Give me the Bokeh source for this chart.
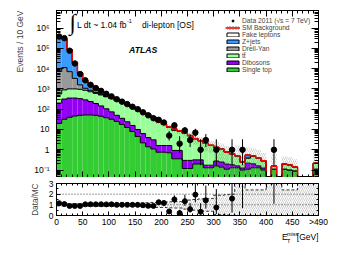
import numpy as np
from bokeh.plotting import figure
from bokeh.layouts import column
from bokeh.models import (ColumnDataSource, FixedTicker, LinearAxis, LogAxis,
                          Label, Legend, LegendItem, Span, Range1d, Title)
from bokeh.embed import file_html
from bokeh.resources import INLINE

# ---------------------------------------------------------------- data
bin_edges = [10 * i for i in range(51)]          # 0 ... 500 GeV, last bin = overflow
x_tick_values = [0, 50, 100, 150, 200, 250, 300, 350, 400, 450, 500]
x_tick_labels = ["0", "50", "100", "150", "200", "250", "300", "350", "400", "450", ">490"]
y_tick_values = [0.1, 1, 10, 100, 1000, 10000, 100000, 1000000]
y_tick_labels = ["10\u207b\u00b9", "1", "10", "10\u00b2", "10\u00b3", "10\u2074", "10\u2075", "10\u2076"]
ratio_tick_values = [0, 1, 2, 3]
ratio_tick_labels = ["0", "1", "2", "3"]

data_2011 = [380000, 316000, 76000, 17900, 5400, 2640, 1590, 1100, 800, 575,
             427, 310, 236, 178, 132, 100, 70, 50, 36, 30,
             22, 5, 16, 2, 9, 3, 7, 1, 3, 0,
             1, 0, 0, 1, 0, 1, 0, 0, 0, 0,
             0, 1, 0, 0, 0, 0, 0, 0, 0, 0]

single_top = [20, 32, 40, 46, 50, 52, 52, 50, 45, 38,
              32, 25, 17.8, 12.6, 7.9, 4.5, 2.2, 1.4, 1.1, 0.76,
              0.76, 0.71, 0.36, 0.36, 0.12, 0.12, 0.2, 0.2, 0.13, 0.13,
              0.16, 0.14, 0.11, 0.13, 0.13, 0.1, 0.11, 0.13, 0.13, 0.1,
              0, 0.11, 0, 0.11, 0.1, 0.09, 0, 0, 0, 0.11]

dibosons = [180, 284, 315, 309, 281, 236, 187, 141, 100, 67,
            42, 25, 17.7, 11.4, 7.9, 5.5, 4.1, 2.6, 2.0, 0.86,
            0.86, 0.91, 0.57, 0.57, 0.18, 0.18, 0.12, 0.12, 0.044, 0.044,
            0.12, 0.11, 0.088, 0.052, 0.032, 0.026, 0.11, 0.074, 0.032, 0.026,
            0, 0, 0, 0, 0, 0, 0, 0, 0, 0]

ttbar = [362, 575, 645, 645, 624, 563, 484, 412, 356, 302,
         257, 213, 173, 138, 107, 83, 63, 48.5, 35.8, 21.8,
         16.6, 11.3, 8.2, 7.4, 6.2, 4.6, 3.15, 2.43, 1.87, 1.45,
         1.01, 0.82, 0.59, 0.45, 0.34, 0.125, 0.17, 0.28, 0.24, 0.16,
         0, 0.046, 0, 0.088, 0.078, 0.052, 0, 0, 0, 0.107]

drell_yan = [6680, 10330, 6080, 2310, 630, 221, 127, 58, 36, 20,
             8, 6, 5, 4, 3, 2, 1.2, 1.0, 0.5, 0.3,
             0.2, 0.1, 0, 0, 0, 0, 0, 0, 0, 0,
             0, 0, 0, 0, 0, 0, 0, 0, 0, 0,
             0, 0, 0, 0, 0, 0, 0, 0, 0, 0]

z_jets = [323900, 283900, 78000, 16640, 4440, 1440, 663, 386, 222, 123,
          68, 40, 20.5, 11.6, 5.8, 4.7, 2.0, 1.5, 0.4, 0.3,
          0.2, 0.2, 1.4, 0.2, 0.15, 0.11, 0.08, 0.07, 0.05, 0.04,
          0.03, 0, 0, 0, 0, 0, 0.16, 0.02, 0, 0,
          0, 0, 0, 0, 0, 0, 0, 0, 0, 0]

fake_leptons = [60, 80, 50, 25, 12, 6, 4, 3, 2, 1.5,
                1.2, 1.0, 0.8, 0.6, 0.5, 0.4, 0.3, 0.25, 0.2, 0.15,
                0.12, 0.1, 0.08, 0.06, 0.05, 0.04, 0.03, 0.03, 0.02, 0.02,
                0.01, 0, 0, 0, 0, 0, 0, 0, 0, 0,
                0, 0, 0, 0, 0, 0, 0, 0, 0, 0]

mc_rel_unc = [0.10, 0.10, 0.10, 0.10, 0.10, 0.11, 0.12, 0.12, 0.13, 0.13,
              0.14, 0.14, 0.15, 0.15, 0.16, 0.17, 0.18, 0.20, 0.22, 0.25,
              0.25, 0.28, 0.30, 0.30, 0.40, 0.45, 0.50, 0.55, 0.60, 0.60,
              0.90, 0.90, 0.95, 1.00, 2.20, 2.20, 1.40, 1.40, 1.40, 1.40,
              3.00, 3.00, 3.00, 1.40, 1.40, 1.40, 3.00, 3.00, 3.00, 3.00]

# ---------------------------------------------------------------- style
FONT = "Liberation Sans"
FLOOR = 1e-3
Y_MIN, Y_MAX = 0.0431, 7.3e6
FRAME_L, FRAME_R, MAIN_T, MAIN_B, RAT_T, RAT_B, RAT_FIG_B, XL_B = 56, 318, 10, 177, 183, 217, 229, 247
FIG_W = 348
HATCH = dict(hatch_pattern="/", hatch_color="#666666", hatch_weight=0.45, hatch_scale=4,
             hatch_alpha=0.7)

components = [
    ("Single top", single_top, "#33CC33"),
    ("Dibosons", dibosons, "#9400F5"),
    ("tt\u0304", ttbar, "#99FF99"),
    ("Drell-Yan", drell_yan, "#999999"),
    ("Z+jets", z_jets, "#3A9BFF"),
    ("Fake leptons", fake_leptons, "#FFFFFF"),
]

edges = np.array(bin_edges, float)
left, right = edges[:-1], edges[1:]
centers = 0.5 * (left + right)
stack = np.cumsum(np.array([c[1] for c in components], float), axis=0)
sm = stack[-1]
unc = np.array(mc_rel_unc, float)
dat = np.array(data_2011, float)

# Poisson 68% intervals (Garwood) for small counts
garwood = {1: (0.173, 3.300), 2: (0.708, 4.638), 3: (1.367, 5.918), 4: (2.086, 7.163),
           5: (2.840, 8.382), 6: (3.620, 9.584), 7: (4.419, 10.77), 8: (5.232, 11.95),
           9: (6.057, 13.11), 10: (6.891, 14.27)}
lo = np.array([garwood[int(n)][0] if 0 < n <= 10 else n - np.sqrt(n) for n in dat])
hi = np.array([garwood[int(n)][1] if 0 < n <= 10 else n + np.sqrt(n) for n in dat])


def gev(px):
    return (px - FRAME_L) / (FRAME_R - FRAME_L) * 500


def main_pos(px, py):
    l0, l1 = np.log10(Y_MIN), np.log10(Y_MAX)
    ly = l1 - (py - MAIN_T) / (MAIN_B - MAIN_T) * (l1 - l0)
    return gev(px), 10 ** ly


def xl_pos(px, py):
    return gev(px), (XL_B - py) / (XL_B - RAT_FIG_B)


def add_label(fig, pos, text, size, align="left", baseline="middle", style="normal",
              font=FONT):
    fig.add_layout(Label(x=float(pos[0]), y=float(pos[1]), text=text, text_font=font,
                         text_font_size=size, text_align=align, text_baseline=baseline,
                         text_font_style=style, text_color="black"))


def style_axis(ax, maj, mnr, show_labels, size="8px", standoff=3):
    ax.major_tick_in = maj
    ax.major_tick_out = 0
    ax.minor_tick_in = mnr
    ax.minor_tick_out = 0
    ax.axis_line_color = "black"
    ax.major_tick_line_color = "black"
    ax.minor_tick_line_color = "black"
    ax.major_label_text_font = FONT
    ax.major_label_text_color = "black"
    if show_labels:
        ax.major_label_text_font_size = size
        ax.major_label_standoff = standoff
    else:
        ax.major_label_text_font_size = "1px"
        ax.major_label_text_alpha = 0
        ax.major_label_standoff = 0


x_minor = list(range(0, 501, 10))
y_minor = [k * 10.0 ** e for e in range(-2, 7) for k in range(2, 10)]

# ---------------------------------------------------------------- main panel
p = figure(width=FIG_W, height=MAIN_B, x_range=Range1d(0, 500), y_range=Range1d(Y_MIN, Y_MAX),
           y_axis_type="log", output_backend="svg", toolbar_location=None,
           min_border_left=FRAME_L, min_border_right=FIG_W - FRAME_R,
           min_border_top=MAIN_T, min_border_bottom=0)
p.xgrid.visible = False
p.ygrid.visible = False
p.outline_line_color = "black"

prev = np.zeros(len(left))
for (name, vals, color), top in zip(components, stack):
    v = np.array(vals, float)
    m = v > 0
    src = ColumnDataSource(dict(left=left[m], right=right[m],
                                bottom=np.maximum(prev[m], FLOOR), top=top[m]))
    p.quad(left="left", right="right", bottom="bottom", top="top", source=src,
           fill_color=color, line_color=None)
    prev = top
for top in stack:
    yv = np.maximum(top, FLOOR)
    p.step(x=edges, y=np.append(yv, yv[-1]), mode="after", line_color="black", line_width=1)

m = sm > 0
band = p.quad(left=left[m], right=right[m], bottom=np.maximum(sm[m] * (1 - unc[m]), FLOOR),
              top=sm[m] * (1 + unc[m]), fill_alpha=0, line_alpha=0, **HATCH)
smy = np.maximum(sm, FLOOR)
red = p.step(x=edges, y=np.append(smy, smy[-1]), mode="after", line_color="red", line_width=1.5)

md = dat > 0
p.segment(x0=centers[md], y0=np.maximum(lo[md], FLOOR), x1=centers[md], y1=hi[md],
          line_color="black", line_width=1)
pts = p.scatter(x=centers[md], y=dat[md], size=5.5, marker="circle",
                fill_color="black", line_color="black")

# axes
p.xaxis.ticker = FixedTicker(ticks=x_tick_values, minor_ticks=x_minor)
style_axis(p.xaxis[0], 6, 3, False)
p.yaxis.ticker = FixedTicker(ticks=y_tick_values, minor_ticks=y_minor)
p.yaxis.major_label_overrides = dict(zip(y_tick_values, y_tick_labels))
style_axis(p.yaxis[0], 7, 4, True, "8.5px", 7)
top_ax = LinearAxis(ticker=FixedTicker(ticks=x_tick_values, minor_ticks=x_minor))
style_axis(top_ax, 6, 3, False)
p.add_layout(top_ax, "above")
right_ax = LogAxis(ticker=FixedTicker(ticks=y_tick_values, minor_ticks=y_minor))
style_axis(right_ax, 7, 4, False)
p.add_layout(right_ax, "right")
p.add_layout(Title(text="Events / 10 GeV", align="right", text_font=FONT,
                   text_font_size="8.5px", text_font_style="normal", standoff=13), "left")

# legend glyph renderers (each sits outside the visible x range)
def legend_box(color):
    return p.quad(left=[-50], right=[-40], bottom=[1], top=[2], fill_color=color,
                  line_color="black", line_width=1)

sm_leg = p.quad(left=[-50], right=[-40], bottom=[1], top=[2], fill_alpha=0, line_alpha=0,
                hatch_pattern="/", hatch_color="#555555", hatch_weight=0.5, hatch_scale=3)
items = [LegendItem(label="Data 2011 (\u221as = 7 TeV)", renderers=[pts]),
         LegendItem(label="SM Background", renderers=[sm_leg, red])]
for name, vals, color in reversed(components):
    items.append(LegendItem(label=name, renderers=[legend_box(color)]))
legend = Legend(items=items, location=(169, 104), label_text_font=FONT,
                label_text_font_size="6.7px", glyph_width=15, glyph_height=5,
                label_height=6, label_standoff=2, spacing=0, padding=0, margin=0,
                border_line_alpha=0, background_fill_alpha=0)
p.add_layout(legend)

# texts inside the frame
add_label(p, main_pos(69, 21.5), "\u222b", "23px", font="Liberation Serif")
add_label(p, main_pos(76.5, 24), "L dt ~ 1.04 fb", "8.5px")
add_label(p, main_pos(126.5, 20.5), "-1", "5.5px")
add_label(p, main_pos(141.5, 24), "di-lepton [OS]", "8.5px")
add_label(p, main_pos(128.5, 49.7), "ATLAS", "8.7px", style="bold italic")

# ---------------------------------------------------------------- ratio panel
r = figure(width=FIG_W, height=RAT_FIG_B - MAIN_B, x_range=p.x_range, y_range=Range1d(0, 3),
           output_backend="svg", toolbar_location=None,
           min_border_left=FRAME_L, min_border_right=FIG_W - FRAME_R,
           min_border_top=RAT_T - MAIN_B, min_border_bottom=RAT_FIG_B - RAT_B)
r.xgrid.visible = False
r.ygrid.visible = False
r.outline_line_color = "black"

for lvl in (1, 2):
    r.add_layout(Span(location=lvl, dimension="width", line_color="black",
                      line_dash="1 2", line_width=0.8))

rb_lo = np.maximum(1 - unc, 0)
rb_hi = 1 + unc
r.quad(left=left, right=right, bottom=rb_lo, top=rb_hi, fill_alpha=0, line_alpha=0, **HATCH)
r.step(x=edges, y=np.append(rb_hi, rb_hi[-1]), mode="after", line_color="black",
       line_dash="3 2", line_width=0.8)
r.step(x=edges, y=np.append(rb_lo, rb_lo[-1]), mode="after", line_color="black",
       line_dash="3 2", line_width=0.8)

mr = (dat > 0) & (sm > 0)
ratio = dat[mr] / sm[mr]
r.segment(x0=centers[mr], y0=lo[mr] / sm[mr], x1=centers[mr], y1=hi[mr] / sm[mr],
          line_color="black", line_width=1)
r.scatter(x=centers[mr], y=ratio, size=5, marker="circle", fill_color="black",
          line_color="black")

r.xaxis.ticker = FixedTicker(ticks=x_tick_values, minor_ticks=x_minor)
r.xaxis.major_label_overrides = dict(zip(x_tick_values, x_tick_labels))
style_axis(r.xaxis[0], 4, 2, True, "8.5px", 1)
r.yaxis.ticker = FixedTicker(ticks=ratio_tick_values, minor_ticks=[0.5, 1.5, 2.5])
r.yaxis.major_label_overrides = dict(zip(ratio_tick_values, ratio_tick_labels))
style_axis(r.yaxis[0], 4, 2, True, "8.5px", 3)
rt = LinearAxis(ticker=FixedTicker(ticks=x_tick_values, minor_ticks=x_minor))
style_axis(rt, 4, 2, False)
r.add_layout(rt, "above")
rr = LinearAxis(ticker=FixedTicker(ticks=ratio_tick_values, minor_ticks=[0.5, 1.5, 2.5]))
style_axis(rr, 4, 2, False)
r.add_layout(rr, "right")
r.add_layout(Title(text="Data/MC", align="right", text_font=FONT, text_font_size="8.2px",
                   text_font_style="normal", standoff=12), "left")

# ---------------------------------------------------------------- x-axis title strip
xl = figure(width=FIG_W, height=XL_B - RAT_FIG_B, x_range=p.x_range, y_range=Range1d(0, 1),
            output_backend="svg", toolbar_location=None, x_axis_location=None,
            y_axis_location=None, min_border_left=FRAME_L, min_border_right=FIG_W - FRAME_R,
            min_border_top=0, min_border_bottom=0)
xl.outline_line_color = None
xl.xgrid.visible = False
xl.ygrid.visible = False
add_label(xl, xl_pos(281.5, 236.5), "E", "8.7px")
add_label(xl, xl_pos(286.5, 233), "miss", "5.5px")
add_label(xl, xl_pos(286.5, 240), "T", "5.5px")
add_label(xl, xl_pos(318, 236.5), "[GeV]", "8.5px", align="right")

layout = column(p, r, xl, spacing=0)
open("out.html", "w").write(file_html(layout, INLINE))
